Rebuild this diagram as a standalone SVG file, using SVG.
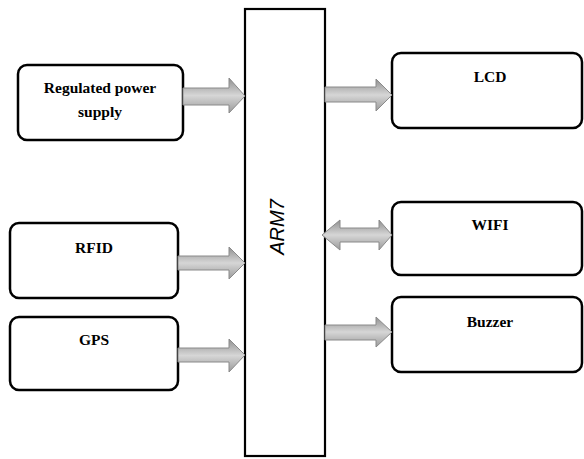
<svg xmlns="http://www.w3.org/2000/svg" width="584" height="459" viewBox="0 0 584 459">
<defs>
<linearGradient id="g" x1="0" y1="0" x2="0" y2="1">
<stop offset="0" stop-color="#8f8f8f"/>
<stop offset="0.5" stop-color="#d6d6d6"/>
<stop offset="1" stop-color="#9a9a9a"/>
</linearGradient>
<style>
.box{fill:#fff;stroke:#000;stroke-width:2.5}
.lbl{font-family:"Liberation Serif","Times New Roman",serif;font-weight:bold;font-size:15.5px;fill:#000;text-anchor:middle}
.arr{fill:url(#g);stroke:#8a8a8a;stroke-width:1}
</style>
</defs>
<rect width="584" height="459" fill="#fff"/>
<g id="arm7">
<rect x="245" y="9" width="80" height="447" fill="#fff" stroke="#000" stroke-width="2.2"/>
<text transform="translate(284,227) rotate(-90)" font-family="Liberation Sans,Arial,sans-serif" font-style="italic" font-size="20" text-anchor="middle">ARM7</text>
</g>
<g id="power">
<rect class="box" x="18" y="65" width="165" height="75" rx="9"/>
<text class="lbl" x="100" y="93">Regulated power</text>
<text class="lbl" x="100" y="117">supply</text>
</g>
<g id="rfid">
<rect class="box" x="10" y="223" width="168" height="75" rx="9"/>
<text class="lbl" x="94" y="253">RFID</text>
</g>
<g id="gps">
<rect class="box" x="10" y="317" width="168" height="73" rx="9"/>
<text class="lbl" x="94" y="345">GPS</text>
</g>
<g id="lcd">
<rect class="box" x="392" y="53" width="190" height="75" rx="9"/>
<text class="lbl" x="490" y="82">LCD</text>
</g>
<g id="wifi">
<rect class="box" x="392" y="202" width="190" height="73" rx="9"/>
<text class="lbl" x="490" y="230">WIFI</text>
</g>
<g id="buzzer">
<rect class="box" x="392" y="297" width="190" height="75" rx="9"/>
<text class="lbl" x="490" y="327">Buzzer</text>
</g>
<g id="connectors">
<path class="arr" d="M183,88 H229 V78 L245,96 L229,113 V105 H183 Z"/>
<path class="arr" d="M178,256 H229 V247 L245,263 L229,279 V270 H178 Z"/>
<path class="arr" d="M178,348 H229 V339 L245,355 L229,372 V362 H178 Z"/>
<path class="arr" d="M325,87 H376 V79 L392,95 L376,111 V102 H325 Z"/>
<path class="arr" d="M340,228 H379 V220 L392,235 L379,250 V242 H340 V250 L322,235 L340,220 Z"/>
<path class="arr" d="M325,325 H376 V317 L392,332 L376,347 V340 H325 Z"/>
</g>
</svg>
